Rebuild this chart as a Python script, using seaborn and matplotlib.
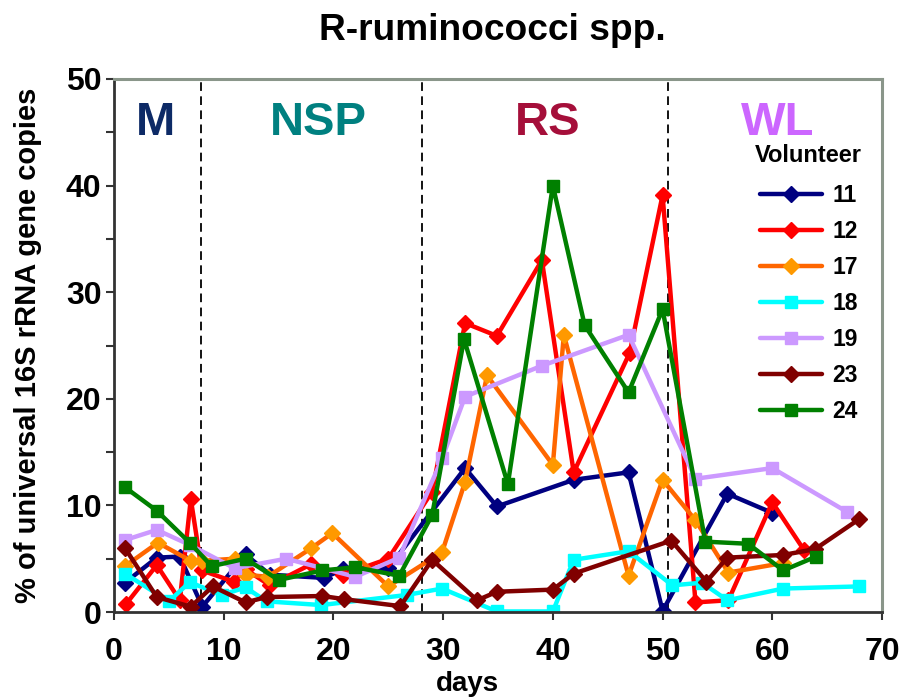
import matplotlib
matplotlib.use("Agg")
import matplotlib.pyplot as plt
from matplotlib.ticker import MultipleLocator
import numpy as np
import pandas as pd
import seaborn as sns

# ---- data: sampling day and % of universal 16S rRNA gene copies per volunteer ----
days_11 = [1.0, 3.9, 6.0, 8.05, 12.0, 14.2, 19.1, 20.9, 25.0, 32.0, 34.9, 41.9, 46.9, 50.0, 55.9, 60.0]
vals_11 = [2.75, 5.1, 5.2, 0.5, 5.4, 3.5, 3.2, 4.0, 4.1, 13.5, 9.9, 12.4, 13.1, 0.1, 11.1, 9.3]

days_12 = [1.1, 3.9, 6.0, 7.0, 8.0, 10.9, 12.0, 14.2, 18.0, 20.9, 25.0, 29.0, 32.0, 34.9, 39.0,
           41.9, 47.0, 50.0, 53.0, 56.0, 60.0, 62.9]
vals_12 = [0.75, 4.4, 1.1, 10.6, 3.9, 2.85, 4.0, 2.5, 4.5, 3.5, 5.0, 11.3, 27.1, 25.9, 33.0,
           13.1, 24.3, 39.1, 0.9, 1.1, 10.3, 5.8]

days_17 = [1.0, 4.0, 7.0, 8.0, 11.0, 12.0, 14.0, 18.0, 19.9, 25.0, 29.9, 32.0, 34.0, 40.0, 41.0,
           46.9, 50.0, 53.0, 56.0, 61.0]
vals_17 = [4.3, 6.5, 4.8, 4.8, 5.0, 3.5, 3.3, 6.0, 7.4, 2.4, 5.6, 12.2, 22.2, 13.8, 26.0,
           3.4, 12.4, 8.6, 3.7, 4.6]

days_18 = [1.0, 5.0, 6.9, 9.8, 12.0, 13.9, 18.9, 26.7, 29.9, 34.9, 40.0, 41.9, 46.9, 50.9, 53.6,
           55.9, 61.0, 67.9]
vals_18 = [3.6, 1.0, 2.8, 1.6, 2.3, 1.0, 0.65, 1.6, 2.2, 0.05, 0.05, 4.9, 5.7, 2.5, 2.75,
           1.1, 2.2, 2.4]

days_19 = [1.0, 3.9, 6.9, 11.0, 15.7, 22.0, 26.0, 29.9, 32.0, 39.0, 46.9, 53.0, 60.0, 66.8]
vals_19 = [6.75, 7.7, 6.3, 4.1, 5.0, 3.3, 5.1, 14.4, 20.2, 23.1, 26.0, 12.5, 13.5, 9.4]

days_23 = [1.0, 3.9, 7.0, 9.0, 12.0, 13.9, 19.0, 21.0, 26.1, 29.0, 33.1, 34.9, 40.0, 41.9, 50.8,
           54.0, 55.9, 61.0, 63.9, 67.9]
vals_23 = [6.0, 1.4, 0.5, 2.4, 0.9, 1.4, 1.5, 1.2, 0.55, 4.9, 1.1, 1.9, 2.1, 3.6, 6.7,
           2.85, 5.1, 5.35, 5.9, 8.7]

days_24 = [1.0, 3.9, 6.9, 8.9, 12.0, 15.0, 19.0, 22.0, 26.0, 29.0, 31.9, 35.9, 40.0, 42.9, 46.9,
           50.0, 53.9, 57.8, 61.0, 64.0]
vals_24 = [11.7, 9.5, 6.5, 4.3, 5.0, 3.0, 3.9, 4.2, 3.4, 9.1, 25.6, 12.0, 40.0, 26.9, 20.6,
           28.4, 6.6, 6.4, 3.9, 5.2]

volunteers = ["11", "12", "17", "18", "19", "23", "24"]
series_days = [days_11, days_12, days_17, days_18, days_19, days_23, days_24]
series_vals = [vals_11, vals_12, vals_17, vals_18, vals_19, vals_23, vals_24]

# diet phases: label, boundary days, label position
phase_labels = ["M", "NSP", "RS", "WL"]
phase_bounds = [7.9, 28.1, 50.5]
phase_label_days = [3.75, 18.65, 39.5, 60.5]

# ---- styling ----
line_colors = {"11": "#000080", "12": "#FF0000", "17": "#FF6600", "18": "#00FFFF",
               "19": "#CC99FF", "23": "#800000", "24": "#008000"}
marker_colors = {"11": "#000080", "12": "#FF0000", "17": "#FF9900", "18": "#00FFFF",
                 "19": "#CC99FF", "23": "#800000", "24": "#008000"}
markers = {"11": "D", "12": "D", "17": "D", "18": "s", "19": "s", "23": "D", "24": "s"}
phase_colors = ["#0D2A66", "#008080", "#A50F3A", "#CC66FF"]

sns.set_theme(style="white")
plt.rcParams["font.family"] = ["Liberation Sans", "DejaVu Sans"]
plt.rcParams["font.weight"] = "bold"
plt.rcParams["text.color"] = "black"
plt.rcParams["axes.labelcolor"] = "black"
plt.rcParams["xtick.color"] = "black"
plt.rcParams["ytick.color"] = "black"

long_df = pd.concat(
    [pd.DataFrame({"day": d, "pct": v, "volunteer": name})
     for name, d, v in zip(volunteers, series_days, series_vals)],
    ignore_index=True,
)

fig = plt.figure(figsize=(9.08, 6.97), dpi=100)
ax = fig.add_axes([114 / 908, 1 - 612 / 697, (882 - 114) / 908, (612 - 79) / 697])

for name in volunteers:
    sub = long_df[long_df["volunteer"] == name]
    ms = 8.4 if markers[name] == "D" else 9.0
    sns.lineplot(data=sub, x="day", y="pct", ax=ax, sort=False, estimator=None,
                 color=line_colors[name], linewidth=3.2, marker=markers[name],
                 markersize=ms, markerfacecolor=marker_colors[name],
                 markeredgecolor=marker_colors[name], markeredgewidth=1.0,
                 label=name)

for xb in phase_bounds:
    ax.axvline(xb, color="black", linewidth=1.3, linestyle=(0, (4.8, 3.0)), zorder=1)

for lab, xd, col in zip(phase_labels, phase_label_days, phase_colors):
    ax.text(xd, 44.75, lab, color=col, fontsize=34, fontweight="bold",
            ha="center", va="baseline")

ax.set_xlim(0, 70)
ax.set_ylim(0, 50)
ax.xaxis.set_major_locator(MultipleLocator(10))
ax.yaxis.set_major_locator(MultipleLocator(10))
ax.yaxis.set_minor_locator(MultipleLocator(5))
ax.tick_params(axis="both", which="both", direction="out", length=6, width=1.5,
               color="#333333", bottom=True, left=True, labelcolor="black")
ax.tick_params(axis="y", labelsize=23, pad=3)
ax.tick_params(axis="x", labelsize=23, pad=12)
for lbl in ax.get_xticklabels() + ax.get_yticklabels():
    lbl.set_fontweight("bold")

for side in ["left", "bottom"]:
    ax.spines[side].set_color("#333333")
    ax.spines[side].set_linewidth(2.0)
for side in ["top", "right"]:
    ax.spines[side].set_color("#8A968A")
    ax.spines[side].set_linewidth(2.2)
ax.set_xlabel("")
ax.set_ylabel("")

fig.text(467 / 908, 6 / 697, "days", ha="center", va="baseline", fontsize=20,
         fontweight="bold")
fig.text(28 / 908, 1 - 345 / 697, "% of universal 16S rRNA gene copies", rotation=90,
         ha="center", va="center", fontsize=21, fontweight="bold")
fig.text(492 / 908, 1 - 30 / 697, "R-ruminococci spp.", ha="center", va="center",
         fontsize=26.7, fontweight="bold")

# legend with its heading set as a separate line of text above the entries
fig.text(808 / 908, 1 - 155 / 697, "Volunteer", ha="center", va="center",
         fontsize=17, fontweight="bold")
handles, labels = ax.get_legend_handles_labels()
leg = ax.legend(handles, labels, loc="upper left",
                bbox_to_anchor=(760 / 908, 1 - 184 / 697), bbox_transform=fig.transFigure,
                frameon=False, fontsize=16.5, handlelength=2.7,
                handletextpad=0.45, labelspacing=0.57, borderaxespad=0, borderpad=0)
for t in leg.get_texts():
    t.set_fontweight("bold")

fig.savefig("out.png", dpi=100)
